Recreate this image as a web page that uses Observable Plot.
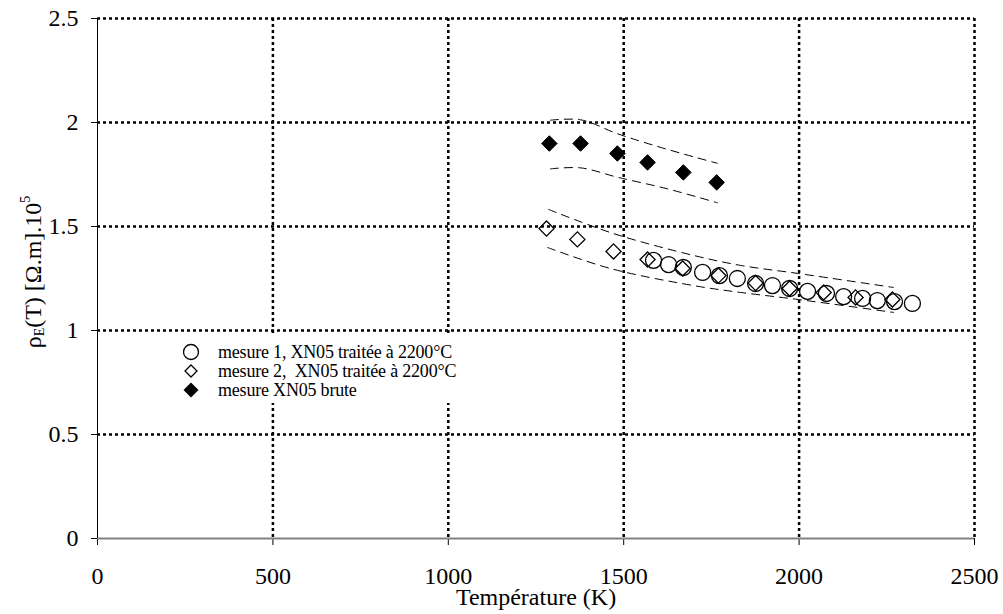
<!DOCTYPE html>
<html><head><meta charset="utf-8">
<script src="https://cdn.jsdelivr.net/npm/d3@7"></script>
<script src="https://cdn.jsdelivr.net/npm/@observablehq/plot@0.6"></script>
<style>
body{margin:0;background:#fff;}
#wrap{position:relative;width:1003px;height:614px;font-family:"Liberation Serif","Times New Roman",serif;color:#000;}
#legend{position:absolute;left:175px;top:336px;width:380px;height:67px;background:#fff;font-size:18px;line-height:19px;letter-spacing:-0.2px;padding-top:6.5px;box-sizing:border-box;}
.row{position:relative;height:19px;white-space:pre;}
.row svg{position:absolute;left:7px;top:0.5px;}
.row span{position:absolute;left:43px;top:0;}
</style>
</head><body>
<div id="wrap"></div>
<script>
// mesure 1, XN05 traitée à 2200°C (open circles)
const m1T = [1585, 1628, 1670, 1725, 1773, 1824, 1876, 1924, 1973, 2024, 2078, 2127, 2181, 2223, 2272, 2323];
const m1R = [1.337, 1.317, 1.303, 1.279, 1.264, 1.250, 1.226, 1.216, 1.202, 1.188, 1.178, 1.163, 1.154, 1.144, 1.139, 1.130];
// mesure 2, XN05 traitée à 2200°C (open diamonds)
const m2T = [1280, 1368, 1471, 1568, 1668, 1770, 1876, 1973, 2070, 2161, 2266];
const m2R = [1.490, 1.438, 1.380, 1.341, 1.298, 1.264, 1.228, 1.202, 1.183, 1.159, 1.149];
// mesure XN05 brute (filled diamonds)
const brT = [1288, 1377, 1482, 1568, 1670, 1765];
const brR = [1.899, 1.899, 1.851, 1.808, 1.760, 1.712];
// dashed uncertainty envelopes
const envTrUpT = [1286, 1471, 1699, 1833, 1998, 2269];
const envTrUp  = [1.582, 1.466, 1.361, 1.313, 1.274, 1.207];
const envTrLoT = [1283, 1462, 1699, 1833, 1998, 2269];
const envTrLo  = [1.399, 1.298, 1.216, 1.183, 1.149, 1.087];
const envBrUpT = [1291, 1377, 1482, 1596, 1710, 1767];
const envBrUp  = [2.011, 2.013, 1.946, 1.885, 1.830, 1.804];
const envBrLoT = [1291, 1377, 1482, 1625, 1767];
const envBrLo  = [1.777, 1.782, 1.737, 1.681, 1.614];
// axes
const xTicks = [0, 500, 1000, 1500, 2000, 2500];
const yTicks = [0, 0.5, 1, 1.5, 2, 2.5];
const xLabel = "Température (K)";
const legendLabels = ["mesure 1, XN05 traitée à 2200°C", "mesure 2,  XN05 traitée à 2200°C", "mesure XN05 brute"];

const pts = (T, R) => T.map((t, i) => ({T: t, R: R[i]}));
const FONT = '"Liberation Serif","Times New Roman",serif';
const dashed = {x: "T", y: "R", curve: "catmull-rom", stroke: "#000", strokeWidth: 1, strokeDasharray: "8,6"};
const grid = {stroke: "#000", strokeOpacity: 1, strokeWidth: 2.5, strokeDasharray: "3,3"};

const chart = Plot.plot({
  width: 1003, height: 614,
  marginLeft: 97, marginRight: 29, marginTop: 18, marginBottom: 76,
  x: {domain: [0, 2500]},
  y: {domain: [0, 2.5]},
  style: {fontFamily: FONT, fontSize: "24px", color: "#000", background: "#fff"},
  marks: [
    Plot.gridX(xTicks.filter(d => d > 0), grid),
    Plot.gridY(yTicks.filter(d => d > 0), grid),
    Plot.axisX(xTicks, {tickSize: 7, tickPadding: 21, tickFormat: d => String(d), label: null, fontSize: 24}),
    Plot.axisY(yTicks, {tickSize: 6, tickPadding: 13, tickFormat: d => String(d), label: null, fontSize: 24}),
    Plot.ruleY([0], {stroke: "#808080", strokeWidth: 2}),
    Plot.ruleX([0], {stroke: "#000", strokeWidth: 1}),
    Plot.line(pts(envTrUpT, envTrUp), dashed),
    Plot.line(pts(envTrLoT, envTrLo), dashed),
    Plot.line(pts(envBrUpT, envBrUp), dashed),
    Plot.line(pts(envBrLoT, envBrLo), dashed),
    Plot.dot(pts(m1T, m1R), {x: "T", y: "R", symbol: "circle", r: 8, stroke: "#000", strokeWidth: 1.3, fill: "none"}),
    Plot.dot(pts(m2T, m2R), {x: "T", y: "R", symbol: "diamond2", r: 6.8, stroke: "#000", strokeWidth: 1.3, fill: "none"}),
    Plot.dot(pts(brT, brR), {x: "T", y: "R", symbol: "diamond2", r: 7, stroke: "#000", strokeWidth: 1, fill: "#000"}),
    Plot.text([xLabel], {text: d => d, frameAnchor: "bottom", dy: 59, lineAnchor: "middle", fontSize: 24, fill: "#000"})
  ]
});

// y-axis label with subscript/superscript
const yl = d3.select(chart).append("text")
  .attr("transform", "translate(41,272) rotate(-90)")
  .attr("text-anchor", "middle").attr("font-size", 24).attr("fill", "#000")
  .attr("font-family", FONT);
yl.append("tspan").text("ρ");
yl.append("tspan").attr("font-size", 14).attr("dy", 3).text("E");
yl.append("tspan").attr("dy", -3).text("(T) [Ω.m].10");
yl.append("tspan").attr("font-size", 14).attr("dy", -11).text("5");

const wrap = document.getElementById("wrap");
wrap.appendChild(chart);

// legend
const legend = document.createElement("div");
legend.id = "legend";
const sym = [
  '<svg width="18" height="18"><circle cx="9" cy="9" r="7.5" fill="none" stroke="#000" stroke-width="1.3"/></svg>',
  '<svg width="18" height="18"><path d="M9,3L15,9L9,15L3,9Z" fill="none" stroke="#000" stroke-width="1.3"/></svg>',
  '<svg width="18" height="18"><path d="M9,1.5L16.5,9L9,16.5L1.5,9Z" fill="#000"/></svg>'
];
legendLabels.forEach((lab, i) => {
  const row = document.createElement("div");
  row.className = "row";
  row.innerHTML = sym[i] + "<span></span>";
  row.querySelector("span").textContent = lab;
  legend.appendChild(row);
});
wrap.appendChild(legend);
</script>
</body></html>
